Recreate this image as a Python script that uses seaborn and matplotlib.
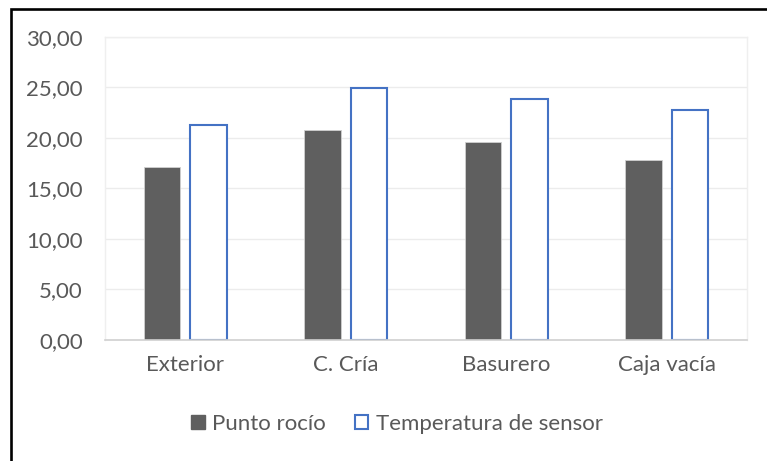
import pandas as pd
import numpy as np
import matplotlib
matplotlib.use("Agg")
import matplotlib.pyplot as plt
import seaborn as sns
from matplotlib.patches import Patch, Rectangle
from matplotlib.ticker import FuncFormatter, MultipleLocator

categorias = ["Exterior", "C. Cría", "Basurero", "Caja vacía"]
punto_rocio = [17.1, 20.8, 19.6, 17.8]
temp_sensor = [21.3, 24.9, 23.8, 22.7]
series = ["Punto rocío", "Temperatura de sensor"]

df = pd.DataFrame({
    "categoria": categorias * 2,
    "serie": [series[0]] * 4 + [series[1]] * 4,
    "valor": punto_rocio + temp_sensor,
})

sns.set_style("white")
plt.rcParams["font.family"] = ["Lato", "DejaVu Sans"]

gris = "#5f5f5f"
azul = "#4472c4"
texto = "#595959"

fig = plt.figure(figsize=(7.67, 4.61), dpi=100)
ax = fig.add_axes([0.1369, 0.2625, 0.837, 0.658])

sns.barplot(data=df, x="categoria", y="valor", hue="serie",
            palette={series[0]: gris, series[1]: "white"},
            width=0.58, gap=0.22, legend=False, ax=ax)

# primera serie: relleno gris; segunda: solo borde azul
for p in ax.containers[0]:
    p.set_edgecolor("#d0d0d0")
    p.set_linewidth(0.6)
for p in ax.containers[1]:
    p.set_edgecolor(azul)
    p.set_linewidth(1.5)

ax.set_ylim(0, 30)
ax.set_xlim(-0.5, 3.5)
ax.yaxis.set_major_locator(MultipleLocator(5))
ax.yaxis.set_major_formatter(FuncFormatter(lambda v, _: f"{v:.2f}".replace(".", ",")))
ax.grid(axis="y", color="#ececec", linewidth=1.0)
ax.set_axisbelow(True)
ax.set_xlabel("")
ax.set_ylabel("")
ax.tick_params(axis="y", length=0, pad=16, labelsize=16, labelcolor=texto)
ax.tick_params(axis="x", length=0, pad=11, labelsize=16, labelcolor=texto)
for s in ["left", "right", "top"]:
    ax.spines[s].set_color("#efefef")
    ax.spines[s].set_linewidth(1.0)
ax.spines["bottom"].set_color("#d0d0d0")
ax.spines["bottom"].set_linewidth(1.2)

handles = [Patch(facecolor=gris, edgecolor=gris, label=series[0]),
           Patch(facecolor="white", edgecolor=azul, linewidth=1.5, label=series[1])]
fig.legend(handles=handles, loc="center", bbox_to_anchor=(0.518, 0.080),
           ncol=2, frameon=False, fontsize=16, labelcolor=texto,
           handlelength=0.6, handleheight=0.6, handletextpad=0.35,
           columnspacing=1.3)

# marco negro del recuadro (recortado a derecha y abajo)
fig.patches.append(Rectangle((10.5 / 767, -0.1), 1.2, (461 - 9.5) / 461 + 0.1,
                             transform=fig.transFigure, fill=False,
                             edgecolor="black", linewidth=1.9))

fig.savefig("out.png", dpi=100)
